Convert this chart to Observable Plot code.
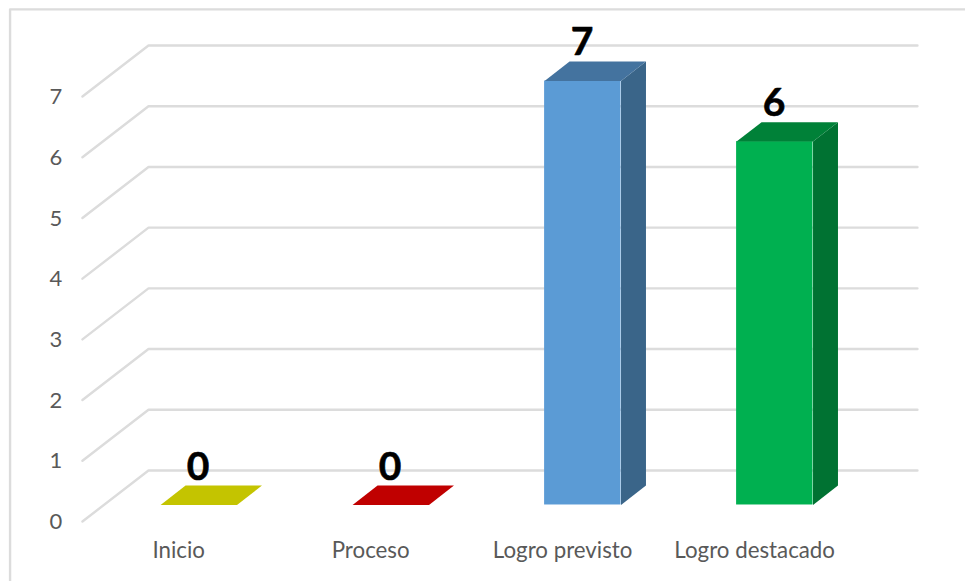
<!DOCTYPE html>
<html>
<head>
<meta charset="utf-8">
<script src="https://cdn.jsdelivr.net/npm/d3@7"></script>
<script src="https://cdn.jsdelivr.net/npm/@observablehq/plot@0.6"></script>
<style>html,body{margin:0;padding:0;background:#fff}svg{display:block}</style>
</head>
<body>
<div id="chart"></div>
<script>
const categories = ["Inicio", "Proceso", "Logro previsto", "Logro destacado"];
const values = [0, 0, 7, 6];
const frontColors = ["#c4c400", "#c00000", "#5b9bd5", "#00b050"];
const topColors = ["#c4c400", "#c00000", "#44739f", "#008138"];
const sideColors = ["#c4c400", "#c00000", "#3a6589", "#007232"];
const yTicks = [0, 1, 2, 3, 4, 5, 6, 7];

// projection constants, in data units (x = category index, y = value)
const barHalf = 0.199, barDX = 0.13, barDY = 0.32, barBase = -0.568, barScale = 0.9975;
const wallX = -0.263, wallDX = 0.344, wallDY = 0.84, wallEnd = 3.742;

const grid = yTicks.map(v => [
  {x: wallX - wallDX, y: v - wallDY},
  {x: wallX, y: v},
  {x: wallEnd, y: v}
]);
const frameLine = [{x: 3.99, y: 7.595}, {x: -0.984, y: 7.595}, {x: -0.984, y: -1.84}];

const faces = [];
const fronts = [];
values.forEach((v, i) => {
  const l = i - barHalf - 0.001, r = i + barHalf - 0.001, b = barBase, t = barBase + v * barScale;
  fronts.push({x1: l, x2: r, y1: b, y2: t, color: frontColors[i]});
  faces.push({color: sideColors[i], pts: [
    {x: r, y: b}, {x: r + barDX, y: b + barDY}, {x: r + barDX, y: t + barDY}, {x: r, y: t}
  ]});
  faces.push({color: topColors[i], pts: [
    {x: l, y: t}, {x: r, y: t}, {x: r + barDX, y: t + barDY}, {x: l + barDX, y: t + barDY}
  ]});
});

const font = "Lato, Carlito, Calibri, sans-serif";
const chart = Plot.plot({
  width: 965,
  height: 581,
  margin: 0,
  style: {background: "#fff", fontFamily: font},
  x: {domain: [0, 3], range: [198.5, 774.5], axis: null},
  y: {domain: [0, 7], range: [470, 45], axis: null},
  marks: [
    Plot.line(frameLine, {x: "x", y: "y", stroke: "#dcdcdc", strokeWidth: 2.4}),
    ...grid.map(g => Plot.line(g, {x: "x", y: "y", stroke: "#dcdcdc", strokeWidth: 2.4})),
    ...fronts.map(f => Plot.rect([f], {x1: "x1", x2: "x2", y1: "y1", y2: "y2", fill: f.color, inset: 0})),
    ...faces.map(f => Plot.line(f.pts, {x: "x", y: "y", fill: f.color, stroke: "none"})),
    Plot.text(yTicks, {x: () => -0.745, y: d => d - wallDY - 0.01, text: d => String(d),
      fontSize: 22, fill: "#595959", textAnchor: "middle"}),
    Plot.text(categories, {x: (d, i) => i - 0.106, y: () => -1.318, text: d => d,
      fontSize: 22.3, fill: "#595959", textAnchor: "middle"}),
    Plot.text(values, {x: (d, i) => i - 0.005, y: d => d + 0.05, text: d => String(d),
      fontSize: 39, fontWeight: 700, fill: "#000", stroke: "#000", strokeWidth: 0.6, textAnchor: "middle"})
  ]
});
document.getElementById("chart").appendChild(chart);
</script>
</body>
</html>
